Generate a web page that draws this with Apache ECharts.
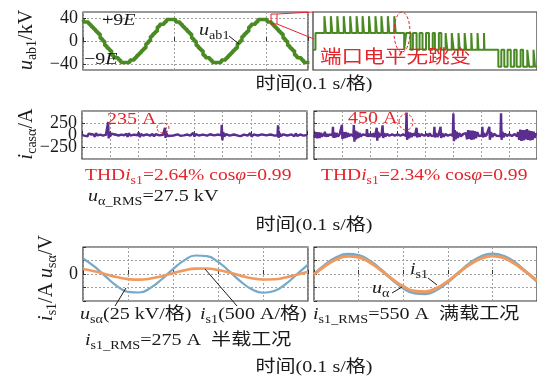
<!DOCTYPE html>
<html>
<head>
<meta charset="utf-8">
<title>波形</title>
<script src="https://cdn.jsdelivr.net/npm/echarts@6/dist/echarts.min.js"></script>
<style>
html,body{margin:0;padding:0;background:#fff;}
#main{width:537px;height:380px;}
</style>
</head>
<body>
<div id="main"></div>
<script>
// ---- 数据 ----
// 第一行左: u_ab1 阶梯波, 每 0.025 格一个采样, 单位为电平数 (E ≈ 4.1 kV)
var E_kV = 4.1;
var uabStep = 0.025;
var uabLevels = [
  9, 8, 8, 7, 6, 5, 4, 3, 1, 0, -2, -3, -4, -6, -7, -7, -8, -9, -9, -9,
  -9, -8, -8, -7, -6, -5, -4, -3, -1, 0, 2, 3, 4, 6, 7, 7, 8, 9, 9, 9,
  9, 8, 8, 7, 6, 5, 4, 3, 1, 0, -2, -3, -4, -6, -7, -7, -8, -9, -9, -9,
  -9, -8, -8, -7, -6, -5, -4, -3, -1, 0, 2, 3, 4, 6, 7, 7, 8, 9, 9, 9,
  9, 8, 8, 7, 6, 5, 4, 3, 1, 0, -2, -3, -4, -6, -7, -7, -8, -9, -9, -9
];
// 第一行右: 局部放大, [时刻, 电平]
var zoomSteps = [
  [0, 7], [2.5, 8],
  [11.5, 9], [13, 8], [18, 9], [19.5, 8], [24.5, 9], [26, 8], [31, 9], [32.5, 8],
  [37.5, 9], [39, 8], [44, 9], [45.5, 8], [50, 9], [51.5, 8], [56.5, 9], [58, 8],
  [63, 9], [64.5, 8], [69, 9], [70.5, 8], [75.5, 9], [77, 8], [82, 9], [83.5, 8],
  [92, 7], [94, 8], [98.5, 7], [100.8, 8], [104.5, 7], [107.5, 8], [110.5, 7], [114, 8],
  [117, 7], [120.8, 8], [123, 7], [127, 8], [129.5, 7], [133.8, 8], [135.5, 7], [140, 8],
  [142, 7], [146.8, 8], [148, 7], [153, 8], [154.5, 7], [159.7, 8], [160.5, 7], [166, 8],
  [167, 7], [172.5, 8], [173, 7],
  [187, 6], [190, 7], [193, 6], [196.3, 7], [199.5, 6], [203, 7], [205.5, 6], [209.5, 7],
  [212, 6], [216.2, 7], [218, 6], [222.5, 7], [224, 6], [226, 6]
];
// 第二行: 环流 i_casα (A), [格, A]
var iHalf = [
  [0, 0], [0.08, -12], [0.14, 18], [0.2, -25], [0.24, 30], [0.3, -8], [0.4, 10], [0.46, -35], [0.5, 40], [0.56, -10], [0.65, 8], [0.75, -12], [0.85, 6],
  [0.91, -5], [0.93, 270], [0.95, -70], [0.97, 60], [1.0, -30], [1.04, 25], [1.1, -15], [1.18, 10], [1.3, -10], [1.4, 8], [1.5, -6],
  [1.58, 25], [1.62, -40], [1.66, 35], [1.72, -12], [1.85, 8], [1.97, -6],
  [2.02, 50], [2.06, -45], [2.1, 20], [2.18, -10], [2.3, 12], [2.42, -15], [2.5, 22], [2.56, -25], [2.62, 18], [2.75, -8], [2.88, 6],
  [2.93, -8], [2.95, 150], [2.97, -60], [3.0, 40], [3.05, -20], [3.12, 15], [3.25, -10], [3.4, 12], [3.5, -15], [3.55, 20], [3.62, -8],
  [3.75, 10], [3.85, -12], [3.95, 45], [4.0, -30], [4.05, 20], [4.15, -10], [4.3, 8], [4.45, -12], [4.55, 15], [4.7, -8], [4.85, 10],
  [4.95, -10], [4.97, 210], [4.99, -110], [5.02, 60], [5.06, -30], [5.12, 20], [5.25, -12], [5.4, 10], [5.55, -15], [5.6, 25], [5.66, -20], [5.75, 8],
  [5.9, -10], [5.98, 40], [6.03, -35], [6.1, 12], [6.25, -10], [6.4, 12], [6.55, -8], [6.7, 10], [6.85, -12],
  [6.95, -5], [6.97, 200], [6.99, -60], [7.02, 40], [7.07, -25], [7.15, 15], [7.3, -10], [7.45, 12], [7.55, -25], [7.6, 30], [7.66, -20], [7.75, 10], [7.88, -12], [8, 0]
];
var iFull = [
  [0, 0], [0.04, -50], [0.08, 60], [0.12, -70], [0.16, 55], [0.2, -60], [0.24, 45], [0.28, -40], [0.32, 30], [0.36, -20], [0.39, 70], [0.42, -40], [0.46, 20], [0.5, -30], [0.55, 15], [0.6, -15],
  [0.66, -10], [0.68, 170], [0.7, -60], [0.73, 50], [0.77, -50], [0.81, 40], [0.86, -30], [0.92, 15],
  [0.98, -10], [1.0, 210], [1.02, -80], [1.05, 60], [1.09, -70], [1.13, 60], [1.17, -50], [1.21, 40], [1.26, -30], [1.31, 20], [1.36, -15],
  [1.41, -30], [1.43, 210], [1.45, -140], [1.48, 90], [1.51, -90], [1.55, 70], [1.59, -60], [1.63, 40], [1.68, -30], [1.75, 15], [1.82, -15],
  [1.88, -10], [1.9, 125], [1.92, -40], [1.96, 30], [2.0, -30], [2.05, 25], [2.1, -35], [2.14, 40], [2.18, -45],
  [2.23, -20], [2.25, 150], [2.27, -120], [2.3, 70], [2.34, -50], [2.38, 30], [2.42, -20], [2.44, -10], [2.46, 200], [2.48, -60], [2.52, 40], [2.56, -30], [2.62, 20], [2.7, -15], [2.8, 12], [2.9, -12], [3.0, 15], [3.1, -15], [3.2, 12],
  [3.3, -20], [3.32, 470], [3.34, -100], [3.37, 70], [3.41, -70], [3.45, 50], [3.5, -40], [3.55, 30], [3.62, -15],
  [3.66, -10], [3.68, 150], [3.7, -50], [3.74, 40], [3.79, -35], [3.85, 20], [3.95, -15], [4.05, 20], [4.1, -30], [4.15, 35], [4.22, -25],
  [4.3, -10], [4.32, 170], [4.34, -50], [4.38, 40], [4.43, -40], [4.48, 20], [4.52, -10], [4.54, 170], [4.56, -60], [4.6, 40], [4.65, -35], [4.72, 20], [4.8, -15], [4.9, 10],
  [4.98, -20], [5.0, 450], [5.02, -130], [5.05, 100], [5.08, -90], [5.12, 70], [5.16, -60], [5.21, 40], [5.27, -30], [5.34, 20], [5.4, -20],
  [5.45, 40], [5.49, -90], [5.53, 100], [5.57, -80], [5.61, 90], [5.65, -100], [5.69, 90], [5.73, -90], [5.77, 80], [5.81, -70], [5.86, 60], [5.92, -25],
  [6.02, -10], [6.04, 170], [6.06, -50], [6.1, 40], [6.15, -30], [6.2, 20], [6.27, -10], [6.29, 170], [6.31, -100], [6.35, 60], [6.4, -40], [6.46, 25], [6.55, -15], [6.62, 12],
  [6.69, -20], [6.71, 450], [6.73, -100], [6.76, 70], [6.8, -50], [6.85, 35], [6.92, -25], [7.0, 15], [7.1, -20], [7.2, 20],
  [7.28, -30], [7.32, 60], [7.36, -100], [7.4, 110], [7.44, -120], [7.48, 100], [7.52, -110], [7.56, 100], [7.6, -90], [7.64, 120], [7.68, -100], [7.72, 90], [7.76, -110], [7.8, 80], [7.84, -100], [7.88, 70], [7.92, -60], [7.96, 30], [8, 0]
];
// 第三行: 每 0.25 格采样 (单位: 格)
var tGrid = [0, 0.25, 0.5, 0.75, 1, 1.25, 1.5, 1.75, 2, 2.25, 2.5, 2.75, 3, 3.25, 3.5, 3.75, 4, 4.25, 4.5, 4.75, 5];
var usHalf = [1.15, 0.56, -0.18, -0.88, -1.32, -1.37, -1.03, -0.39, 0.36, 1.01, 1.37, 1.33, 0.90, 0.21, -0.54, -1.13, -1.39, -1.26, -0.75, -0.03, 0.70];
var isHalf = [0.37, 0.21, -0.01, -0.23, -0.38, -0.42, -0.34, -0.16, 0.06, 0.27, 0.40, 0.41, 0.30, 0.11, -0.12, -0.31, -0.41, -0.39, -0.26, -0.05, 0.17];
var usFull = [-0.03, 0.67, 1.21, 1.47, 1.38, 0.96, 0.32, -0.40, -1.03, -1.41, -1.46, -1.16, -0.59, 0.12, 0.80, 1.29, 1.48, 1.32, 0.85, 0.17, -0.54];
var isFull = [-0.03, 0.60, 1.09, 1.32, 1.24, 0.86, 0.28, -0.36, -0.92, -1.26, -1.31, -1.04, -0.53, 0.10, 0.72, 1.16, 1.33, 1.19, 0.76, 0.16, -0.48];

var uabTicks = [-40, 0, 40];

// ---- 样式 ----
var SERIF = '"Liberation Serif","Times New Roman","Noto Sans CJK SC",serif';
var GREEN = '#4a8a22', PURPLE = '#5a2d8e', BLUE = '#74a9c8', ORANGE = '#f19a5f';
var RED = '#e4252b', INK = '#1a1a1a', GRIDC = '#a0a0a0';

function pairs(t, v) { return t.map(function (x, i) { return [x, v[i]]; }); }
function minus(v) { return String(v).replace('-', '\u2212'); }

function rich(size, color) {
  return {
    n: { fontFamily: SERIF, fontSize: size, fill: color, color: color },
    i: { fontFamily: SERIF, fontSize: size, fontStyle: 'italic', fill: color, color: color },
    s: { fontFamily: SERIF, fontSize: Math.round(size * 0.7), fill: color, color: color, padding: [Math.round(size * 0.5), 0, 0, 0] }
  };
}
function txt(x, y, text, o) {
  o = o || {};
  var size = o.size || 17, color = o.color || INK;
  return {
    type: 'text', x: x, y: y, z: 100,
    rotation: o.rot || 0, scaleX: o.sx == null ? 1.18 : o.sx,
    style: {
      text: text, rich: rich(size, color), fill: color,
      font: size + 'px ' + SERIF,
      align: o.align || 'left', verticalAlign: 'middle'
    }
  };
}
function seg(x1, y1, x2, y2, color) {
  return { type: 'line', z: 100, shape: { x1: x1, y1: y1, x2: x2, y2: y2 }, style: { stroke: color || INK, lineWidth: 1 } };
}
function ring(cx, cy, rx, ry) {
  return { type: 'ellipse', z: 100, shape: { cx: cx, cy: cy, rx: rx, ry: ry }, style: { stroke: RED, fill: 'none', lineWidth: 1, lineDash: [3, 2] } };
}

var gridBase = { show: true, borderColor: '#333', borderWidth: 1.2, backgroundColor: 'transparent' };
var grids = [
  { left: 83, top: 12, width: 225, height: 58 },
  { left: 313, top: 12, width: 226, height: 58 },
  { left: 82, top: 111, width: 225, height: 48 },
  { left: 314, top: 111, width: 224, height: 48 },
  { left: 83, top: 247, width: 225, height: 54 },
  { left: 314, top: 247, width: 224, height: 54 }
].map(function (g) { return Object.assign({}, gridBase, g); });

function xAx(gi, max, showGrid) {
  return {
    type: 'value', gridIndex: gi, min: 0, max: max, interval: 1,
    axisLine: { show: false }, axisLabel: { show: false },
    axisTick: { show: showGrid, inside: true, length: 4, lineStyle: { color: '#333' } },
    splitLine: { show: showGrid, lineStyle: { type: [2, 2], color: GRIDC, width: 1 } }
  };
}
var tickLbl = { fontFamily: SERIF, fontSize: 18, color: INK, margin: 5, formatter: minus };
function yAx(gi, o) {
  return Object.assign({
    type: 'value', gridIndex: gi,
    axisLine: { show: false },
    axisTick: { show: true, inside: true, length: 3, lineStyle: { color: '#333' } },
    splitLine: { show: true, lineStyle: { type: [2, 2], color: GRIDC, width: 1 } }
  }, o);
}

var option = {
  animation: false,
  backgroundColor: '#fff',
  grid: grids,
  xAxis: [
    xAx(0, 2.46, true),
    Object.assign(xAx(1, 226, false), { interval: null }),
    xAx(2, 8, true),
    xAx(3, 8, true),
    xAx(4, 5, true),
    xAx(5, 5, true)
  ],
  yAxis: [
    yAx(0, { min: -50, max: 50,
      axisLabel: Object.assign({ customValues: uabTicks }, tickLbl),
      axisTick: { show: true, inside: true, length: 3, customValues: uabTicks, lineStyle: { color: '#333' } } }),
    yAx(1, { min: 5.8, max: 9.25, axisLabel: { show: false }, axisTick: { show: false }, splitLine: { show: false } }),
    yAx(2, { min: -500, max: 500, interval: 250,
      axisLabel: Object.assign({ showMinLabel: false, showMaxLabel: false }, tickLbl) }),
    yAx(3, { min: -500, max: 500, interval: 250, axisLabel: { show: false } }),
    yAx(4, { min: -2, max: 2, interval: 1,
      axisLabel: Object.assign({}, tickLbl, { formatter: function (v) { return v === 0 ? '0' : ''; } }) }),
    yAx(5, { min: -2, max: 2, interval: 1, axisLabel: { show: false } })
  ],
  series: [
    { type: 'line', xAxisIndex: 0, yAxisIndex: 0, step: 'middle', symbol: 'none',
      lineStyle: { color: GREEN, width: 3.5 },
      data: uabLevels.map(function (lv, i) { return [i * uabStep, lv * E_kV]; }) },
    { type: 'line', xAxisIndex: 1, yAxisIndex: 1, step: 'end', symbol: 'none',
      lineStyle: { color: GREEN, width: 2 }, data: zoomSteps },
    { type: 'line', xAxisIndex: 2, yAxisIndex: 2, symbol: 'none',
      lineStyle: { color: PURPLE, width: 2.4 }, data: iHalf },
    { type: 'line', xAxisIndex: 3, yAxisIndex: 3, symbol: 'none',
      lineStyle: { color: PURPLE, width: 2.4 }, data: iFull },
    { type: 'line', xAxisIndex: 4, yAxisIndex: 4, symbol: 'none', smooth: true,
      lineStyle: { color: BLUE, width: 2.2 }, data: pairs(tGrid, usHalf) },
    { type: 'line', xAxisIndex: 4, yAxisIndex: 4, symbol: 'none', smooth: true,
      lineStyle: { color: ORANGE, width: 2.6 }, data: pairs(tGrid, isHalf) },
    { type: 'line', xAxisIndex: 5, yAxisIndex: 5, symbol: 'none', smooth: true,
      lineStyle: { color: BLUE, width: 3 }, data: pairs(tGrid, usFull) },
    { type: 'line', xAxisIndex: 5, yAxisIndex: 5, symbol: 'none', smooth: true,
      lineStyle: { color: ORANGE, width: 3 }, data: pairs(tGrid, isFull) }
  ],
  graphic: [
    // 纵轴名
    txt(27, 40, '{i|u}{s|ab1}{n|/kV}', { size: 20, rot: Math.PI / 2, align: 'center', sx: 1 }),
    txt(27, 134, '{i|i}{s|casα}{n|/A}', { size: 20, rot: Math.PI / 2, align: 'center', sx: 1 }),
    txt(47, 278, '{i|i}{s|s1}{n|/A }{i|u}{s|sα}{n|/V}', { size: 20, rot: Math.PI / 2, align: 'center', sx: 1 }),
    // 第一行
    txt(102, 21, '{n|+9}{i|E}'),
    txt(84, 60, '{n|\u22129}{i|E}'),
    txt(199, 31, '{i|u}{s|ab1}'),
    seg(229, 36, 239, 44),
    { type: 'rect', z: 100, shape: { x: 271, y: 14, width: 6, height: 10 }, style: { stroke: RED, fill: 'none', lineWidth: 1 } },
    seg(277, 14, 313, 12, RED),
    seg(277, 24, 314, 39, RED),
    ring(402, 32, 8, 20),
    txt(320, 58, '{n|端口电平无跳变}', { size: 18, color: RED, sx: 1.2 }),
    txt(314, 85, '{n|时间(0.1 s/格)}', { align: 'center' }),
    // 第二行
    txt(107, 120, '{n|235 A}', { color: RED }),
    ring(163, 128, 6, 5),
    txt(348, 119, '{n|450 A}', { color: RED }),
    ring(406, 122, 7, 8),
    txt(85, 176, '{n|THD}{i|i}{s|s1}{n|=2.64% cos}{i|φ}{n|=0.99}', { color: RED, sx: 1.15 }),
    txt(321, 176, '{n|THD}{i|i}{s|s1}{n|=2.34% cos}{i|φ}{n|=0.99}', { color: RED, sx: 1.15 }),
    txt(88, 197, '{i|u}{s|α_RMS}{n|=27.5 kV}'),
    txt(314, 226, '{n|时间(0.1 s/格)}', { align: 'center' }),
    // 第三行
    txt(80, 315, '{i|u}{s|sα}{n|(25 kV/格)}'),
    txt(200, 315, '{i|i}{s|s1}{n|(500 A/格)}'),
    seg(115, 306, 126, 288),
    seg(237, 306, 205, 269),
    txt(85, 341, '{i|i}{s|s1_RMS}{n|=275 A  半载工况}'),
    txt(313, 315, '{i|i}{s|s1_RMS}{n|=550 A  满载工况}'),
    txt(410, 270, '{i|i}{s|s1}'),
    seg(428, 278, 437, 285),
    txt(372, 289, '{i|u}{s|α}'),
    seg(392, 293, 402, 287),
    txt(314, 368, '{n|时间(0.1 s/格)}', { align: 'center' })
  ]
};

var chart = echarts.init(document.getElementById('main'), null, { renderer: 'canvas' });
chart.setOption(option);
</script>
</body>
</html>
